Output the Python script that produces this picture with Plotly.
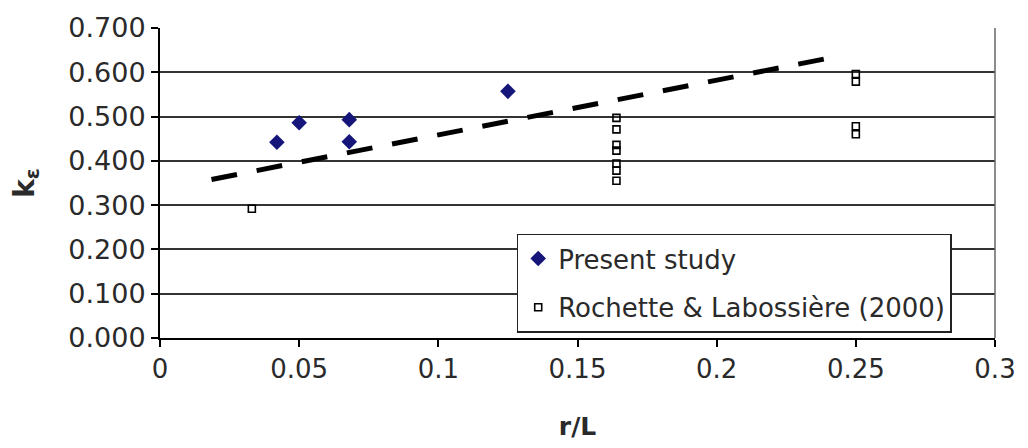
import plotly.graph_objects as go

# Present study measurements
present_x = [0.042, 0.050, 0.068, 0.068, 0.125]
present_y = [0.442, 0.486, 0.493, 0.443, 0.557]

# Rochette & Labossière (2000)
rochette_x = [0.033,
              0.164, 0.164, 0.164, 0.164, 0.164, 0.164, 0.164,
              0.250, 0.250, 0.250, 0.250]
rochette_y = [0.292,
              0.497, 0.471, 0.436, 0.423, 0.394, 0.378, 0.355,
              0.596, 0.579, 0.478, 0.460]

# Trend line end points
trend_x = [0.0185, 0.2436]
trend_y = [0.358, 0.636]

y_ticks = [0.0, 0.1, 0.2, 0.3, 0.4, 0.5, 0.6, 0.7]

FONT = "DejaVu Sans"
TXT = "#2a2a2a"

fig = go.Figure()

fig.add_trace(go.Scatter(
    x=trend_x, y=trend_y, mode="lines",
    line=dict(color="black", width=5, dash="26px,20px"),
    showlegend=False, hoverinfo="skip",
))

fig.add_trace(go.Scatter(
    x=present_x, y=present_y, mode="markers", name="Present study",
    marker=dict(symbol="diamond", size=12, color="#16167a"),
    legendgroup="a",
))

fig.add_trace(go.Scatter(
    x=rochette_x, y=rochette_y, mode="markers",
    name="Rochette & Labossière (2000)",
    marker=dict(symbol="square-open", size=7, color="black",
                line=dict(width=1.6, color="black")),
    legendgroup="b",
))

fig.update_layout(
    width=1028, height=448,
    margin=dict(l=160, r=30, t=21, b=109),
    paper_bgcolor="white", plot_bgcolor="white",
    font=dict(family=FONT, size=26, color=TXT),
    legend=dict(
        x=0.4272, y=0.337, xanchor="left", yanchor="top",
        bgcolor="white", bordercolor="#222", borderwidth=1.5,
        font=dict(family=FONT, size=26, color=TXT),
        tracegroupgap=12, traceorder="grouped",
    ),
    xaxis=dict(
        range=[0, 0.3], tickmode="linear", tick0=0, dtick=0.05,
        showgrid=False, zeroline=False,
        showline=True, linecolor="black", linewidth=2,
        ticks="outside", ticklen=7, tickwidth=1.5, tickcolor="black",
        tickfont=dict(family=FONT, size=26, color=TXT),
        title=dict(text="<b>r/L</b>", standoff=34,
                   font=dict(family=FONT, size=25, color=TXT)),
    ),
    yaxis=dict(
        range=[0, 0.7], tickmode="array", tickvals=y_ticks,
        tickformat=".3f",
        showgrid=True, gridcolor="#333", gridwidth=1.5,
        zeroline=False,
        showline=True, linecolor="black", linewidth=2,
        ticks="outside", ticklen=7, tickwidth=1.5, tickcolor="black",
        tickfont=dict(family=FONT, size=27, color=TXT),
        title=dict(text="<b>k<sub>ε</sub></b>", standoff=26,
                   font=dict(family=FONT, size=28, color=TXT)),
    ),
    shapes=[
        dict(type="line", xref="paper", yref="paper", x0=1, x1=1, y0=0, y1=1,
             line=dict(color="#666", width=1.5)),
    ],
)

fig.write_html("out.html")
